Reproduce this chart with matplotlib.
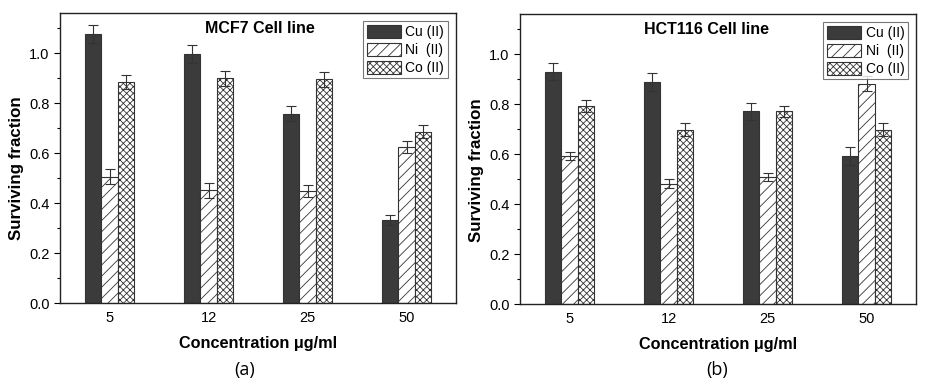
import matplotlib.pyplot as plt
import numpy as np
from matplotlib.ticker import MultipleLocator

plt.rcParams['font.family'] = ['Liberation Sans', 'DejaVu Sans']
plt.rcParams['hatch.linewidth'] = 0.6

# data
conc_labels = ['5', '12', '25', '50']
series_names = ['Cu (II)', 'Ni  (II)', 'Co (II)']

mcf7_cu = [1.077, 0.996, 0.758, 0.333]
mcf7_ni = [0.505, 0.451, 0.448, 0.624]
mcf7_co = [0.884, 0.899, 0.896, 0.686]
mcf7_cu_err = [0.035, 0.035, 0.03, 0.02]
mcf7_ni_err = [0.03, 0.03, 0.024, 0.025]
mcf7_co_err = [0.028, 0.03, 0.03, 0.025]

hct_cu = [0.930, 0.888, 0.771, 0.592]
hct_ni = [0.592, 0.482, 0.509, 0.882]
hct_co = [0.792, 0.698, 0.771, 0.698]
hct_cu_err = [0.035, 0.035, 0.035, 0.035]
hct_ni_err = [0.017, 0.017, 0.017, 0.03]
hct_co_err = [0.024, 0.025, 0.023, 0.025]

panels = [
    ('MCF7 Cell line', [mcf7_cu, mcf7_ni, mcf7_co], [mcf7_cu_err, mcf7_ni_err, mcf7_co_err], '(a)'),
    ('HCT116 Cell line', [hct_cu, hct_ni, hct_co], [hct_cu_err, hct_ni_err, hct_co_err], '(b)'),
]

fig = plt.figure(figsize=(9.32, 3.89), dpi=100)
axes_pos = [[0.0644, 0.221, 0.4249, 0.7455], [0.558, 0.2185, 0.4249, 0.7455]]
title_x = [0.505, 0.471]
panel_x = [0.263, 0.769]
ylabel_y = [0.466, 0.462]

edge = '#333333'
fills = ['#3b3b3b', 'white', 'white']
hatches = [None, '///', 'xxxxx']
bar_width = 0.167
index = np.arange(len(conc_labels))

for k, (title, vals, errs, tag) in enumerate(panels):
    ax = fig.add_axes(axes_pos[k])
    for i in range(3):
        ax.bar(index + (i - 1) * bar_width, vals[i], bar_width, color=fills[i],
               edgecolor=edge, hatch=hatches[i], linewidth=0.8, label=series_names[i],
               yerr=errs[i], error_kw=dict(ecolor=edge, elinewidth=0.8, capsize=3.5, capthick=0.8))
    ax.set_xlim(-0.5, 3.5)
    ax.set_ylim(0, 1.16)
    ax.set_xticks(index)
    ax.set_xticklabels(conc_labels, fontsize=10.5)
    ax.yaxis.set_minor_locator(MultipleLocator(0.1))
    ax.set_yticks([0.0, 0.2, 0.4, 0.6, 0.8, 1.0])
    ax.set_yticklabels(['0.0', '0.2', '0.4', '0.6', '0.8', '1.0'], fontsize=10.5)
    ax.tick_params(axis='x', length=0, pad=6)
    ax.tick_params(axis='y', which='major', length=4, width=0.8, direction='out')
    ax.tick_params(axis='y', which='minor', length=2.5, width=0.8, direction='out')
    for s in ax.spines.values():
        s.set_linewidth(1.0)
        s.set_color('#222222')
    ax.set_ylabel('Surviving fraction', fontsize=12.2, fontweight='bold')
    ax.yaxis.set_label_coords(-0.09, ylabel_y[k])
    ax.set_xlabel('Concentration \u03bcg/ml', fontsize=11.7, fontweight='bold', labelpad=8)
    ax.text(title_x[k], 0.945, title, transform=ax.transAxes, ha='center', va='center',
            fontsize=11.5, fontweight='bold')
    leg = ax.legend(loc='upper right', fontsize=10, frameon=True, fancybox=False,
                    edgecolor='#555555', handlelength=2.5, handleheight=1.1,
                    handletextpad=0.3, labelspacing=0.25, borderpad=0.25,
                    borderaxespad=0.6)
    leg.get_frame().set_linewidth(0.8)
    fig.text(panel_x[k], 0.049, tag, ha='center', va='center', fontsize=13,
             family=['Open Sans', 'DejaVu Sans'])

fig.savefig('out.png', dpi=100)
